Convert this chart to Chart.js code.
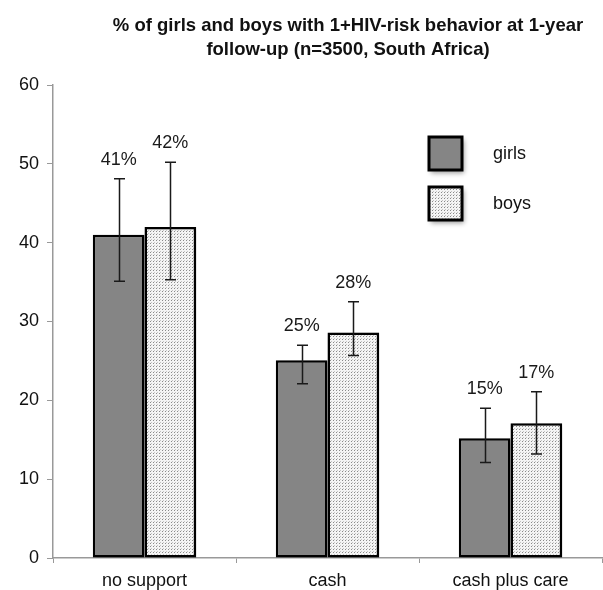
<!DOCTYPE html>
<html>
<head>
<meta charset="utf-8">
<script src="https://cdn.jsdelivr.net/npm/chart.js@4"></script>
<style>
  html, body { margin: 0; padding: 0; background: #fff; }
  #wrap { width: 603px; height: 590px; }
</style>
</head>
<body>
<div id="wrap"><canvas id="chart"></canvas></div>
<script>
const titleLines = [
  "% of girls and boys with 1+HIV-risk behavior at 1-year",
  "follow-up (n=3500, South Africa)",
];
const categories = ["no support", "cash", "cash plus care"];
const girls = [41, 25.1, 15.2];
const boys = [42, 28.6, 17.1];
const girlsLow = [35.1, 22.1, 12.1];
const girlsHigh = [48.1, 27, 19];
const boysLow = [35.3, 25.7, 13.2];
const boysHigh = [50.2, 32.5, 21.1];
const girlsLabels = ["41%", "25%", "15%"];
const boysLabels = ["42%", "28%", "17%"];

const FONT = "'Liberation Sans', Arial, Helvetica, sans-serif";

// stipple fill for the boys bars
function makeDots() {
  const c = document.createElement("canvas");
  c.width = 3;
  c.height = 3;
  const g = c.getContext("2d");
  g.fillStyle = "#f4f4f4";
  g.fillRect(0, 0, 3, 3);
  g.fillStyle = "#8a8a8a";
  g.fillRect(0, 0, 1, 1);
  g.fillStyle = "#c4c4c4";
  g.fillRect(1, 2, 1, 1);
  return g.createPattern(c, "repeat");
}
const dots = makeDots();

const errors = [
  { low: girlsLow, high: girlsHigh, labels: girlsLabels },
  { low: boysLow, high: boysHigh, labels: boysLabels },
];

const shadowPlugin = {
  id: "barShadow",
  beforeDatasetsDraw(chart) {
    const ctx = chart.ctx;
    ctx.save();
    ctx.shadowColor = "rgba(0,0,0,0.35)";
    ctx.shadowBlur = 4;
    ctx.shadowOffsetX = 2;
    ctx.shadowOffsetY = 2;
  },
  afterDatasetsDraw(chart) {
    chart.ctx.restore();
  },
};

const errorPlugin = {
  id: "errorBars",
  afterDatasetsDraw(chart) {
    const ctx = chart.ctx;
    const y = chart.scales.y;
    ctx.save();
    ctx.strokeStyle = "#1a1a1a";
    ctx.lineWidth = 1.5;
    ctx.fillStyle = "#1a1a1a";
    ctx.font = "18px " + FONT;
    ctx.textAlign = "center";
    ctx.textBaseline = "middle";
    errors.forEach((e, di) => {
      chart.getDatasetMeta(di).data.forEach((bar, i) => {
        const x = Math.round(bar.x) + 0.5;
        const yl = y.getPixelForValue(e.low[i]);
        const yh = y.getPixelForValue(e.high[i]);
        ctx.beginPath();
        ctx.moveTo(x, yl);
        ctx.lineTo(x, yh);
        ctx.moveTo(x - 5.5, yl);
        ctx.lineTo(x + 5.5, yl);
        ctx.moveTo(x - 5.5, yh);
        ctx.lineTo(x + 5.5, yh);
        ctx.stroke();
        ctx.fillText(e.labels[i], bar.x, yh - 19);
      });
    });
    ctx.restore();
  },
};

const titlePlugin = {
  id: "twoLineTitle",
  afterDraw(chart) {
    const ctx = chart.ctx;
    ctx.save();
    ctx.fillStyle = "#111";
    ctx.font = "bold 18.5px " + FONT;
    ctx.textAlign = "center";
    ctx.textBaseline = "middle";
    titleLines.forEach((t, i) => ctx.fillText(t, 348, 26 + i * 24));
    ctx.restore();
  },
};

const legendPlugin = {
  id: "boxLegend",
  afterDraw(chart) {
    const ctx = chart.ctx;
    const boxes = [137, 187];
    ctx.save();
    chart.data.datasets.forEach((ds, i) => {
      const top = boxes[i];
      ctx.save();
      ctx.shadowColor = "rgba(0,0,0,0.4)";
      ctx.shadowBlur = 5;
      ctx.shadowOffsetX = 2;
      ctx.shadowOffsetY = 3;
      ctx.fillStyle = ds.backgroundColor;
      ctx.fillRect(429, top, 33, 33);
      ctx.restore();
      ctx.strokeStyle = "#000";
      ctx.lineWidth = 3;
      ctx.strokeRect(429, top, 33, 33);
      ctx.fillStyle = "#111";
      ctx.font = "18px " + FONT;
      ctx.textBaseline = "middle";
      ctx.fillText(ds.label, 493, top + 17);
    });
    ctx.restore();
  },
};

document.addEventListener("DOMContentLoaded", () => {
  new Chart(document.getElementById("chart"), {
    type: "bar",
    data: {
      labels: categories,
      datasets: [
        {
          label: "girls",
          data: girls,
          backgroundColor: "#858585",
          borderColor: "#000",
          borderWidth: 2.5,
          borderSkipped: false,
        },
        {
          label: "boys",
          data: boys,
          backgroundColor: dots,
          borderColor: "#000",
          borderWidth: 2.5,
          borderSkipped: false,
        },
      ],
    },
    options: {
      responsive: true,
      maintainAspectRatio: false,
      animation: false,
      layout: { padding: { top: 85, right: 1, left: 0, bottom: 0 } },
      datasets: { bar: { barPercentage: 1, categoryPercentage: 0.565 } },
      plugins: {
        legend: { display: false },
        tooltip: { enabled: false },
      },
      scales: {
        x: {
          grid: { drawOnChartArea: false, tickLength: 5, color: "#999" },
          border: { color: "#999", width: 1.5 },
          ticks: { font: { size: 18, family: FONT }, color: "#111", padding: 7 },
          afterFit: (s) => { s.height = 32; },
        },
        y: {
          min: 0,
          max: 60,
          grid: { drawOnChartArea: false, tickLength: 6, color: "#999" },
          border: { color: "#999", width: 1.5 },
          ticks: { stepSize: 10, font: { size: 18, family: FONT }, color: "#111", padding: 8 },
          afterFit: (s) => { s.width = 53; },
        },
      },
    },
    plugins: [shadowPlugin, errorPlugin, titlePlugin, legendPlugin],
  });
});
</script>
</body>
</html>
